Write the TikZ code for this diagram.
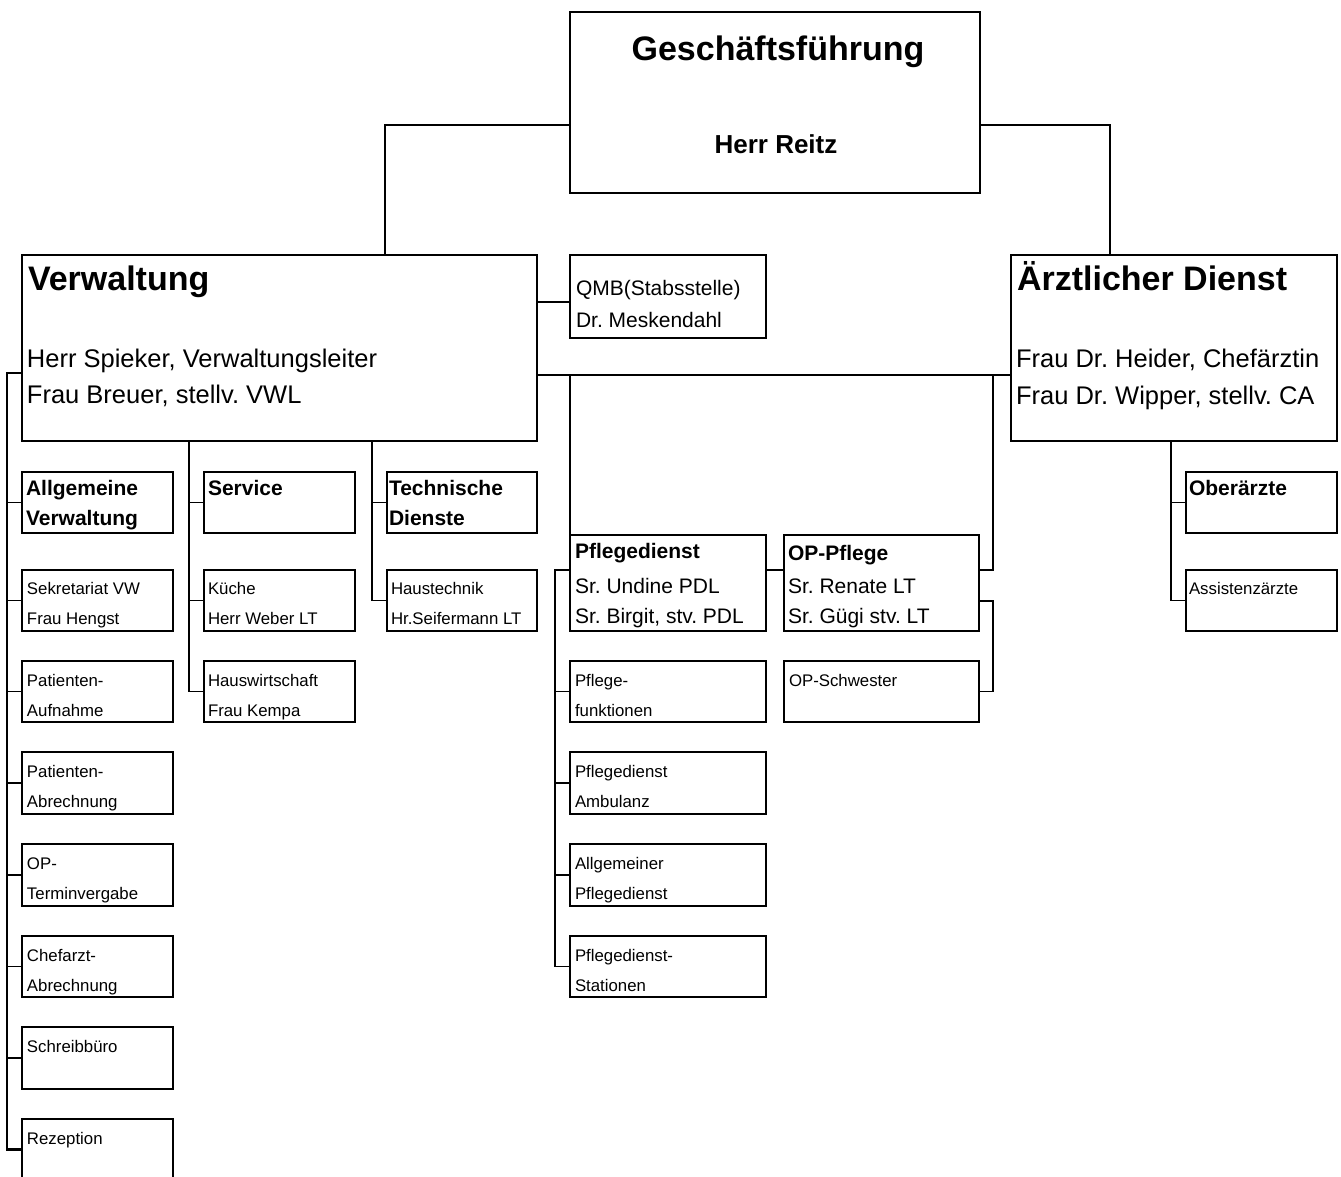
\documentclass[tikz,border=0pt]{standalone}
\usepackage{fontspec}
\setmainfont{Liberation Sans}
\usetikzlibrary{calc}
\frenchspacing
\newcommand\fTitle{\fontsize{34}{40}\selectfont\bfseries}
\newcommand\fName{\fontsize{26}{30}\selectfont\bfseries}
\newcommand\fBig{\fontsize{25.5}{30}\selectfont}
\newcommand\fMid{\fontsize{21}{25}\selectfont}
\newcommand\fMidB{\fontsize{21}{25}\selectfont\bfseries}
\newcommand\fSmall{\fontsize{16.8}{20}\selectfont}
\newcommand\bx[5]{\node[orgbox, minimum width={(#4-#2)*1pt}, minimum height={(#5-#3)*1pt}] (#1) at (#2,#3) {};}
\begin{document}
\frenchspacing
\begin{tikzpicture}[x=1pt,y=-1pt,
  orgbox/.style={draw, line width=1.5pt, inner sep=0pt, outer sep=0pt, anchor=north west},
  txt/.style={anchor=base west, inner sep=0pt, outer sep=0pt},
  ctxt/.style={anchor=base, inner sep=0pt, outer sep=0pt},
  conn/.style={line width=1.4pt},
  bus/.style={line width=2.4pt}]
\useasboundingbox[fill=white] (0,0) rectangle (1341,1176);
% boxes
\bx{gf}{570}{12}{980}{193}
\bx{verw}{22}{255}{537}{441}
\bx{qmb}{570}{255}{766}{338}
\bx{arzt}{1011}{255}{1337}{441}
\bx{allg}{22}{472}{173}{533}
\bx{sek}{22}{570}{173}{631}
\bx{pauf}{22}{661}{173}{722}
\bx{pabr}{22}{752}{173}{814}
\bx{opt}{22}{844}{173}{906}
\bx{chef}{22}{936}{173}{997}
\bx{schr}{22}{1027}{173}{1089}
\bx{rez}{22}{1119}{173}{1180}
\bx{serv}{204}{472}{355}{533}
\bx{kue}{204}{570}{355}{631}
\bx{haus}{204}{661}{355}{722}
\bx{tech}{387}{472}{537}{533}
\bx{htech}{387}{570}{537}{631}
\bx{pfl}{570}{535}{766}{631}
\bx{opp}{784}{535}{979}{631}
\bx{pfk}{570}{661}{766}{722}
\bx{pamb}{570}{752}{766}{814}
\bx{apfl}{570}{844}{766}{906}
\bx{pst}{570}{936}{766}{997}
\bx{ops}{784}{661}{979}{722}
\bx{ober}{1186}{472}{1337}{533}
\bx{assi}{1186}{570}{1337}{631}
% texts
\node[ctxt, font=\fTitle] (gft1) at (778,60) {Geschäftsführung};
\node[ctxt, font=\fName] (gft2) at (776,153) {Herr Reitz};
\node[txt, font=\fTitle] (vt1) at (28,290) {Verwaltung};
\node[txt, font=\fBig] (vt2) at (27,367) {Herr Spieker, Verwaltungsleiter};
\node[txt, font=\fBig] (vt3) at (27,403) {Frau Breuer, stellv. VWL};
\node[txt, font=\fTitle] (at1) at (1017,290) {Ärztlicher Dienst};
\node[txt, font=\fBig] (at2) at (1016,367) {Frau Dr. Heider, Chefärztin};
\node[txt, font=\fBig] (at3) at (1016,404) {Frau Dr. Wipper, stellv. CA};
\node[txt, font=\fMid] (qt1) at (576,295) {QMB(Stabsstelle)};
\node[txt, font=\fMid] (qt2) at (576,327) {Dr. Meskendahl};
\node[txt, font=\fMidB] (pt1) at (575,558) {Pflegedienst};
\node[txt, font=\fMid] (pt2) at (575,593) {Sr. Undine PDL};
\node[txt, font=\fMid] (pt3) at (575,623) {Sr. Birgit, stv. PDL};
\node[txt, font=\fMidB] (ot1) at (788,560) {OP-Pflege};
\node[txt, font=\fMid] (ot2) at (788,593) {Sr. Renate LT};
\node[txt, font=\fMid] (ot3) at (788,623) {Sr. Gügi stv. LT};
\node[txt, font=\fMidB] (alt1) at (26,495) {Allgemeine};
\node[txt, font=\fMidB] (alt2) at (26,525) {Verwaltung};
\node[txt, font=\fMidB] (set1) at (208,495) {Service};
\node[txt, font=\fMidB] (tet1) at (389,495) {Technische};
\node[txt, font=\fMidB] (tet2) at (389,525) {Dienste};
\node[txt, font=\fMidB] (obt1) at (1189,495) {Oberärzte};
\node[txt, font=\fSmall] (skt1) at (27,594) {Sekretariat VW};
\node[txt, font=\fSmall] (skt2) at (27,624) {Frau Hengst};
\node[txt, font=\fSmall] (pat1) at (27,686) {Patienten-};
\node[txt, font=\fSmall] (pat2) at (27,716) {Aufnahme};
\node[txt, font=\fSmall] (pbt1) at (27,777) {Patienten-};
\node[txt, font=\fSmall] (pbt2) at (27,807) {Abrechnung};
\node[txt, font=\fSmall] (opt1) at (27,869) {OP-};
\node[txt, font=\fSmall] (opt2) at (27,899) {Terminvergabe};
\node[txt, font=\fSmall] (cht1) at (27,961) {Chefarzt-};
\node[txt, font=\fSmall] (cht2) at (27,991) {Abrechnung};
\node[txt, font=\fSmall] (sct1) at (27,1052) {Schreibbüro};
\node[txt, font=\fSmall] (rzt1) at (27,1144) {Rezeption};
\node[txt, font=\fSmall] (kt1) at (208,594) {Küche};
\node[txt, font=\fSmall] (kt2) at (208,624) {Herr Weber LT};
\node[txt, font=\fSmall] (hwt1) at (208,686) {Hauswirtschaft};
\node[txt, font=\fSmall] (hwt2) at (208,716) {Frau Kempa};
\node[txt, font=\fSmall] (htt1) at (391,594) {Haustechnik};
\node[txt, font=\fSmall] (htt2) at (391,624) {Hr.Seifermann LT};
\node[txt, font=\fSmall] (pft1) at (575,686) {Pflege-};
\node[txt, font=\fSmall] (pft2) at (575,716) {funktionen};
\node[txt, font=\fSmall] (pmt1) at (575,777) {Pflegedienst};
\node[txt, font=\fSmall] (pmt2) at (575,807) {Ambulanz};
\node[txt, font=\fSmall] (apt1) at (575,869) {Allgemeiner};
\node[txt, font=\fSmall] (apt2) at (575,899) {Pflegedienst};
\node[txt, font=\fSmall] (pst1) at (575,961) {Pflegedienst-};
\node[txt, font=\fSmall] (pst2) at (575,991) {Stationen};
\node[txt, font=\fSmall] (ost1) at (789,686) {OP-Schwester};
\node[txt, font=\fSmall] (ast1) at (1189,594) {Assistenzärzte};
% junction coordinates
\coordinate (j1) at (385,125);
\coordinate (j2) at (1110,125);
\coordinate (j3) at (0,302);
\coordinate (j4) at (0,375);
\coordinate (j5) at (993,375);
\coordinate (j6) at (0,570);
\coordinate (j7) at (993,601);
\coordinate (pb) at (555,570);
\coordinate (lb) at (7,373);
\coordinate (sb) at (189,441);
\coordinate (tb) at (372,441);
\coordinate (ab) at (1171,441);
% connectors
\draw[conn] (gf.west |- j1) -| (verw.north -| j1);
\draw[conn] (gf.east |- j2) -| (arzt.north -| j2);
\draw[conn] (verw.east |- j3) -- (qmb.west |- j3);
\draw[conn] (verw.east |- j4) -- (arzt.west |- j4);
\draw[conn] (pfl.north west |- j4) -- (pfl.north west);
\draw[conn] (j5) |- (opp.east |- j6);
\draw[conn] (opp.east |- j7) -- (j7) |- (ops.east);
\draw[bus] (pfl.east |- j6) -- (opp.west |- j6);
% Pflege bus
\draw[conn] (pfl.west |- pb) -- (pb) |- (pst.west);
\draw[conn] (pb |- pfk.west) -- (pfk.west);
\draw[conn] (pb |- pamb.west) -- (pamb.west);
\draw[conn] (pb |- apfl.west) -- (apfl.west);
% left bus
\draw[bus] (verw.west |- lb) -- (lb) |- (rez.west);
\draw[conn] (lb |- allg.west) -- (allg.west);
\draw[conn] (lb |- sek.west) -- (sek.west);
\draw[conn] (lb |- pauf.west) -- (pauf.west);
\draw[conn] (lb |- pabr.west) -- (pabr.west);
\draw[conn] (lb |- opt.west) -- (opt.west);
\draw[conn] (lb |- chef.west) -- (chef.west);
\draw[conn] (lb |- schr.west) -- (schr.west);
% service bus
\draw[conn] (sb) |- (haus.west);
\draw[conn] (sb |- serv.west) -- (serv.west);
\draw[conn] (sb |- kue.west) -- (kue.west);
% technik bus
\draw[conn] (tb) |- (htech.west);
\draw[conn] (tb |- tech.west) -- (tech.west);
% aerzte bus
\draw[conn] (ab) |- (assi.west);
\draw[conn] (ab |- ober.west) -- (ober.west);
\end{tikzpicture}
\end{document}
